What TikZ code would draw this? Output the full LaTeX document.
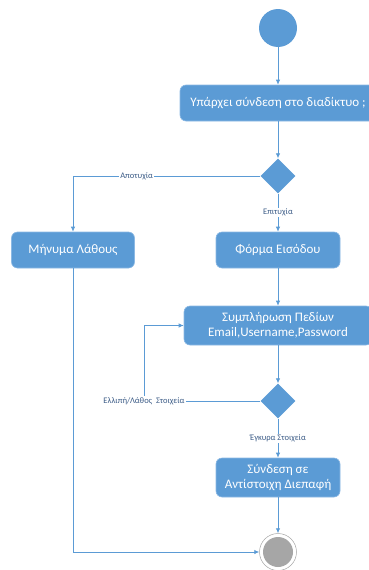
\documentclass[tikz,border=0pt]{standalone}
\usepackage{fontspec}
\setmainfont{Carlito}
\usetikzlibrary{positioning,arrows.meta,shapes.geometric}
\definecolor{ActBlue}{RGB}{91,155,213}
\definecolor{EdgeBlue}{RGB}{140,185,228}
\definecolor{GuardText}{RGB}{60,92,135}
\definecolor{StopGrey}{RGB}{166,166,166}

\begin{document}
\begin{tikzpicture}[x=1pt, y=-1pt, every node/.style={align=center}]
\tikzset{
  activity/.style={draw=EdgeBlue, line width=0.6pt, rounded corners=6pt, fill=ActBlue, text=white,
    font=\fontsize{13}{15.5}\selectfont, minimum height=36pt, inner sep=2pt},
  choice/.style={diamond, fill=ActBlue, minimum width=35pt, minimum height=35pt, inner sep=0pt},
  startdot/.style={circle, fill=ActBlue, minimum size=38pt, inner sep=0pt},
  stopring/.style={circle, draw=StopGrey, line width=0.5pt, fill=white, minimum size=37pt, inner sep=0pt},
  stopdot/.style={circle, fill=StopGrey, minimum size=30pt, inner sep=0pt},
  guard/.style={fill=white, text=GuardText, font=\fontsize{8.5}{10}\selectfont, inner sep=1pt},
  arr/.style={-{Latex[length=5pt,width=4.5pt]}, line width=0.8pt, ActBlue}
}
  \useasboundingbox (0,0) rectangle (369,570);

  \node[startdot] (start) at (278,28) {};
  \node[activity, minimum width=196pt] (online) at (278,103) {Υπάρχει σύνδεση στο διαδίκτυο ;};
  \node[choice] (check) at (278,176) {};

  \node[activity, minimum width=123pt] (errmsg) at (73,250) {Μήνυμα Λάθους};
  \node[activity, minimum width=124pt] (form) at (278,250) {Φόρμα Εισόδου};
  \node[activity, minimum width=188pt, minimum height=39pt] (fill) at (278,325.5)
    {Συμπλήρωση Πεδίων\\Email,Username,Password};
  \node[choice] (valid) at (278,401) {};
  \node[activity, minimum width=124pt, minimum height=39pt] (login) at (278,477.5)
    {Σύνδεση σε\\Αντίστοιχη Διεπαφή};

  \node[stopring] (stop) at (278,552) {};
  \node[stopdot] (stopin) at (stop) {};

  \coordinate (retry) at (144,401);

  \draw[arr] (start) -- (online);
  \draw[arr] (online) -- (check);
  \draw[arr] (check.west) -| node[guard, pos=0.33]{Αποτυχία} (errmsg.north);
  \draw[arr] (check) -- node[guard]{Επιτυχία} (form);
  \draw[arr] (form) -- (fill);
  \draw[arr] (fill) -- (valid);
  \draw[arr] (valid.west) -- (retry) |- (fill.west);
  \node[guard] (retrylbl) at (retry) {Ελλιπή/Λάθος\ \ Στοιχεία};
  \draw[arr] (valid) -- node[guard]{Έγκυρα Στοιχεία} (login);
  \draw[arr] (login) -- (stop);
  \draw[arr] (errmsg.south) |- (stop.west);
\end{tikzpicture}
\end{document}
